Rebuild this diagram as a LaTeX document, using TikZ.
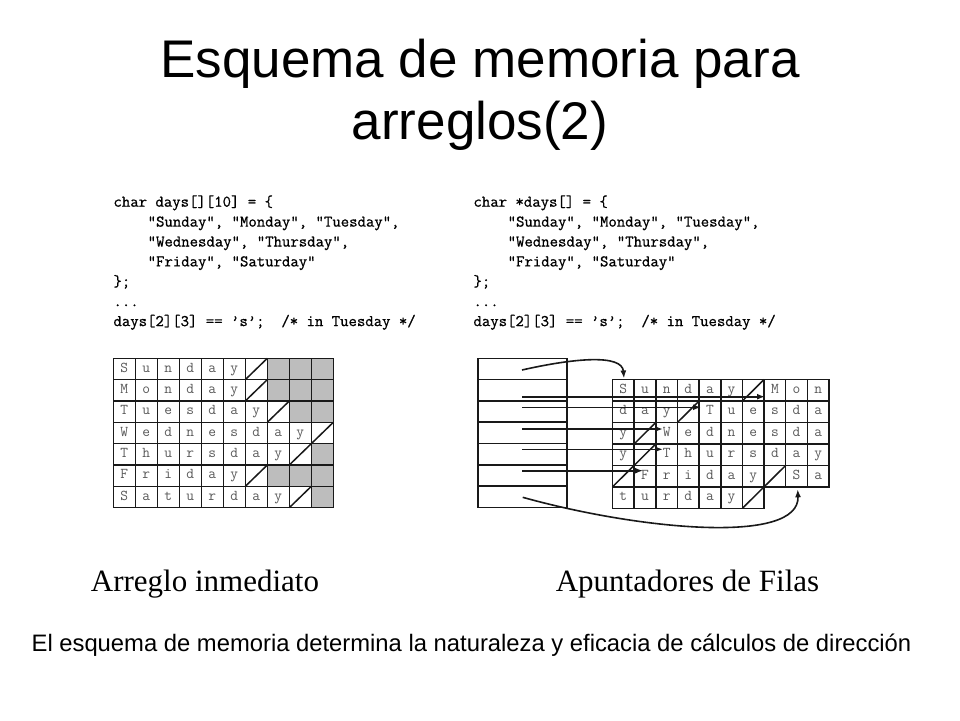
\documentclass[tikz,border=0pt]{standalone}
\usepackage{fontspec}
\setmainfont{Liberation Sans}
\newfontfamily\timesfont{Liberation Serif}
\newfontfamily\codefont[FakeBold=0.8]{Latin Modern Mono}
\usetikzlibrary{arrows.meta}
\def\graymark{*}
\def\nullmark{/}
\tikzset{
  cellL/.style={draw=black!90, line width=1.5pt, inner sep=0pt, outer sep=0pt,
    minimum width=22pt, minimum height=21.34pt, text height=8.5pt, text depth=2pt,
    font=\fontsize{15}{15}\selectfont\ttfamily, text=black!65},
  cellR/.style={cellL, minimum width=21.65pt, minimum height=21.47pt},
  ptrcell/.style={draw=black!90, line width=1.5pt, inner sep=0pt, outer sep=0pt,
    minimum width=89pt, minimum height=21.3pt},
  diag/.style={line width=1.5pt, black!90},
  ptr/.style={line width=1.6pt, black!90, -{Latex[length=8pt,width=6pt]}},
  codeline/.style={anchor=base west, inner sep=0pt, font=\fontsize{16.3}{19.9}\selectfont\codefont},
}
\begin{document}
\begin{tikzpicture}[x=1pt,y=-1pt]
\fill[white] (0,0) rectangle (960,720);
\path[use as bounding box] (0,0) rectangle (960,720);

% title
\node[anchor=base, inner sep=0pt, font=\fontsize{53}{60}\selectfont] (title1) at (480,77.7) {Esquema de memoria para};
\node[anchor=base, inner sep=0pt, font=\fontsize{53}{60}\selectfont] (title2) at (480,139) {arreglos(2)};

% left code
\node[codeline] (cl1) at (113.3,206.7) {char days[][10] = \{};
\node[codeline] (cl2) at (147.5,226.6) {"Sunday", "Monday", "Tuesday",};
\node[codeline] (cl3) at (147.5,246.5) {"Wednesday", "Thursday",};
\node[codeline] (cl4) at (147.5,266.4) {"Friday", "Saturday"};
\node[codeline] (cl5) at (113.3,286.3) {\};};
\node[codeline] (cl6) at (113.3,306.2) {...};
\node[codeline] (cl7) at (113.3,326.1) {days[2][3] == ’s’;~~/* in Tuesday */};

% right code
\node[codeline] (cr1) at (473.3,206.7) {char *days[] = \{};
\node[codeline] (cr2) at (507.5,226.6) {"Sunday", "Monday", "Tuesday",};
\node[codeline] (cr3) at (507.5,246.5) {"Wednesday", "Thursday",};
\node[codeline] (cr4) at (507.5,266.4) {"Friday", "Saturday"};
\node[codeline] (cr5) at (473.3,286.3) {\};};
\node[codeline] (cr6) at (473.3,306.2) {...};
\node[codeline] (cr7) at (473.3,326.1) {days[2][3] == ’s’;~~/* in Tuesday */};

% left grid
\foreach \ch [count=\i from 0] in {S,u,n,d,a,y,/,*,*,*,M,o,n,d,a,y,/,*,*,*,T,u,e,s,d,a,y,/,*,*,W,e,d,n,e,s,d,a,y,/,T,h,u,r,s,d,a,y,/,*,F,r,i,d,a,y,/,*,*,*,S,a,t,u,r,d,a,y,/,*}{
  \pgfmathtruncatemacro\rr{floor(\i/10)}
  \pgfmathtruncatemacro\cc{\i-10*\rr}
  \ifx\ch\graymark
    \node[cellL, fill=black!26] (L\i) at ({113.3+22*\cc+11},{358.3+21.34*\rr+10.67}) {};
  \else\ifx\ch\nullmark
    \node[cellL] (L\i) at ({113.3+22*\cc+11},{358.3+21.34*\rr+10.67}) {};
    \draw[diag] (L\i.south west) -- (L\i.north east);
  \else
    \node[cellL] (L\i) at ({113.3+22*\cc+11},{358.3+21.34*\rr+10.67}) {\ch};
  \fi\fi
}

% pointer array
\foreach \k in {1,...,7}{
  \node[ptrcell] (p\k) at (522.5,{358.3+21.3*(\k-0.5)}) {};
}

% right grid
\foreach \ch [count=\i from 0] in {S,u,n,d,a,y,/,M,o,n,d,a,y,/,T,u,e,s,d,a,y,/,W,e,d,n,e,s,d,a,y,/,T,h,u,r,s,d,a,y,/,F,r,i,d,a,y,/,S,a,t,u,r,d,a,y,/}{
  \pgfmathtruncatemacro\rr{floor(\i/10)}
  \pgfmathtruncatemacro\cc{\i-10*\rr}
  \ifx\ch\nullmark
    \node[cellR] (R\i) at ({612.5+21.65*\cc+10.825},{379.5+21.47*\rr+10.735}) {};
    \draw[diag] (R\i.south west) -- (R\i.north east);
  \else
    \node[cellR] (R\i) at ({612.5+21.65*\cc+10.825},{379.5+21.47*\rr+10.735}) {\ch};
  \fi
}

% pointer connectors
\coordinate (s1) at (522,370);   \coordinate (t1) at (624,378.5);
\coordinate (s2) at (522,396.7); \coordinate (t2) at (765,396.7);
\coordinate (s3) at (522,407.3); \coordinate (t3) at (701,407.3);
\coordinate (s4) at (522,429);   \coordinate (t4) at (663,429);
\coordinate (s5) at (522,449.3); \coordinate (t5) at (663,449.3);
\coordinate (s6) at (522,470.7); \coordinate (t6) at (643,470.7);
\coordinate (s7) at (522.7,497.3); \coordinate (t7) at (797.7,489.3);

\draw[ptr] (s1) .. controls (575,358) and (622,354) .. (t1);
\draw[ptr] (s2) -- (t2);
\draw[ptr] (s3) -- (t3);
\draw[ptr] (s4) -- (t4);
\draw[ptr] (s5) -- (t5);
\draw[ptr] (s6) -- (t6);
\draw[ptr] (s7) .. controls (640,530) and (800,545) .. (t7);

% labels
\node[anchor=base, inner sep=0pt, font=\fontsize{31}{31}\selectfont\timesfont] (labL) at (205,591.7) {Arreglo inmediato};
\node[anchor=base, inner sep=0pt, font=\fontsize{31}{31}\selectfont\timesfont] (labR) at (687.5,591.7) {Apuntadores de Filas};
\node[anchor=base, inner sep=0pt, font=\fontsize{23.8}{23.8}\selectfont] (caption) at (471.5,651.7) {El esquema de memoria determina la naturaleza y eficacia de cálculos de dirección};
\end{tikzpicture}
\end{document}
